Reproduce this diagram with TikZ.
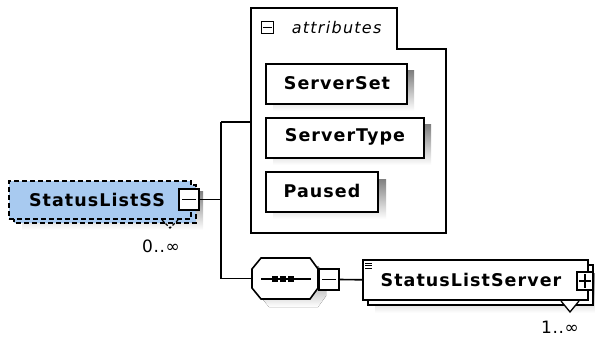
\documentclass[tikz,border=0pt]{standalone}
\usepackage{fontspec}
\setmainfont{DejaVu Sans}
\newfontfamily\elfont[LetterSpace=6]{DejaVu Sans Bold}
\newfontfamily\atfont[LetterSpace=8]{DejaVu Sans Oblique}
\newfontfamily\numfont[LetterSpace=4]{DejaVu Sans}
\definecolor{elblue}{RGB}{168,202,240}
\definecolor{shade}{RGB}{188,188,188}
\begin{document}
\begin{tikzpicture}[x=1pt,y=-1pt,line width=1.6pt,
  elbox/.style={draw=black,fill=white,line width=1.6pt,inner sep=0pt,anchor=north west},
  optbox/.style={draw=black,dash pattern=on 5pt off 3pt,fill=elblue,line width=1.6pt},
  eltext/.style={font={\elfont\fontsize{17.5pt}{20pt}\selectfont},inner sep=0pt},
  attext/.style={font={\atfont\fontsize{16pt}{18pt}\selectfont},inner sep=0pt},
  numtext/.style={font={\numfont\fontsize{17pt}{19pt}\selectfont},inner sep=0pt},
  togbox/.style={draw=black,fill=white,line width=1.6pt,inner sep=0pt},
  togmark/.style={line width=1.3pt}]
\useasboundingbox (0,0) rectangle (595,337);

% ---------- StatusListSS ----------
\fill[shade] (22,191) rectangle (203,230);
\path[optbox] (14,185) rectangle (196,223);
\node[optbox,inner sep=0pt,anchor=north west,minimum width=182pt,minimum height=38pt] (ss) at (8,180) {};
\node[eltext] (sst) at (97,200) {StatusListSS};
\node[togbox,minimum width=20pt,minimum height=21pt] (ssm) at (189,199.5) {};
\draw[togmark] ([xshift=4pt]ssm.west) -- ([xshift=-4pt]ssm.east);
\draw[dash pattern=on 3pt off 2pt,line width=1.3pt] (162,220) -- (170,228) -- (178,220);
\node[numtext] (ssc) at (161,246) {0..∞};

% ---------- connectors ----------
\coordinate (j) at (221,199.5);
\coordinate (attrin) at (251,122);

% ---------- attributes ----------
\draw[fill=white] (251,8) -- (397,8) -- (397,49) -- (446,49) -- (446,233) -- (251,233) -- cycle;
\node[togbox,line width=1.3pt,minimum size=12pt] (atm) at (267.5,27.5) {};
\draw[line width=1.1pt] ([xshift=2pt]atm.west) -- ([xshift=-2pt]atm.east);
\node[attext,anchor=west] (att) at (291,28) {attributes};

\fill[shade] (273,71) rectangle (414,111);
\node[elbox,minimum width=141pt,minimum height=40pt] (sset) at (265,63) {};
\node[eltext] (ssett) at (337,83) {ServerSet};

\fill[shade] (273,125) rectangle (431,165);
\node[elbox,minimum width=158pt,minimum height=40pt] (stype) at (265,117) {};
\node[eltext] (stypet) at (345,137) {ServerType};

\fill[shade] (273,179) rectangle (386,219);
\node[elbox,minimum width=112pt,minimum height=40pt] (paused) at (265,171) {};
\node[eltext] (pausedt) at (322,191) {Paused};

% ---------- sequence ----------
\fill[shade] (269,266) -- (318,266) -- (326,277) -- (326,296) -- (318,307) -- (269,307) -- (260,296) -- (260,277) -- cycle;
\draw[fill=white] (261,258) -- (310,258) -- (318,269) -- (318,288) -- (310,299) -- (261,299) -- (252,288) -- (252,269) -- cycle;
\node[inner sep=0pt,minimum width=66pt,minimum height=41pt] (seq) at (285,278.5) {};
\draw[line width=1.3pt] (261,279) -- (311,279);
\foreach \xx in {275,283,291} \fill (\xx-3,276) rectangle (\xx+3,282);
\node[togbox,minimum width=20pt,minimum height=21pt] (seqm) at (329,279.5) {};
\draw[togmark] ([xshift=4pt]seqm.west) -- ([xshift=-4pt]seqm.east);

% ---------- StatusListServer ----------
\fill[shade] (375,273) rectangle (595,313);
\draw[fill=white] (368,265) rectangle (593,305);
\node[elbox,minimum width=225pt,minimum height=40pt] (sls) at (362,259) {};
\node[eltext] (slst) at (471,280) {StatusListServer};
\foreach \yy in {263,265.5,268} \draw[line width=0.9pt] (365,\yy) -- (372,\yy);
\node[togbox,minimum width=16pt,minimum height=18pt] (slsp) at (585,281) {};
\draw[togmark] ([xshift=3pt]slsp.west) -- ([xshift=-3pt]slsp.east);
\draw[togmark] ([yshift=-3pt]slsp.north) -- ([yshift=3pt]slsp.south);
\fill[white] (561,301) -- (579,301) -- (570,312) -- cycle;
\draw[line width=1.3pt] (561,301) -- (570,312) -- (579,301);
\node[numtext] (slsc) at (560,327) {1..∞};

% ---------- connector lines ----------
\draw (ssm.east) -- (j);
\draw (j |- attrin) -- (j |- seq.west);
\draw (j |- attrin) -- (attrin);
\draw (j |- seq.west) -- (seq.west);
\draw (seq.east) -- (seqm.west);
\draw (seqm.east) -- (sls.west);
\end{tikzpicture}
\end{document}
